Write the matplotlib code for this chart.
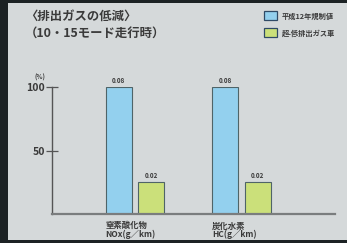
import matplotlib
matplotlib.use("Agg")
from matplotlib import pyplot as plt
from matplotlib.patches import Rectangle

plt.rcParams['font.family'] = ['Noto Sans CJK JP', 'DejaVu Sans']

# data
categories = ["窒素酸化物", "炭化水素"]
units = ["NOx(g／km)", "HC(g／km)"]
series_names = ["平成12年規制値", "超-低排出ガス車"]
limit_values = [0.08, 0.08]
ulev_values = [0.02, 0.02]
yticks = [50, 100]

# percentages relative to the regulation value
limit_pct = [v / v * 100 for v in limit_values]
ulev_pct = [u / v * 100 for u, v in zip(ulev_values, limit_values)]

W, H = 347, 243
fig = plt.figure(figsize=(W / 100, H / 100), dpi=100)
fig.patch.set_facecolor("#1c2224")

bg = "#d5d9da"
fig.patches.append(Rectangle((8 / W, 3 / H), 1, (H - 6) / H, transform=fig.transFigure,
                             facecolor=bg, edgecolor="none", zorder=-5))

blue = "#93d0ee"
green = "#cbe07a"
edge = "#4f6468"
txt = "#3a3a3a"

ax = fig.add_axes([52 / W, (H - 214) / H, (335 - 52) / W, (214 - 87) / H])
ax.set_facecolor("none")

x = range(len(categories))
off = 0.153
bw = 0.245
b1 = ax.bar([i - off for i in x], limit_pct, width=bw, color=blue, edgecolor=edge, linewidth=0.8)
b2 = ax.bar([i + off for i in x], ulev_pct, width=bw, color=green, edgecolor=edge, linewidth=0.8)
ax.bar_label(b1, labels=[f"{v:.2f}" for v in limit_values], padding=2, fontsize=4.5,
             fontweight="bold", color=txt)
ax.bar_label(b2, labels=[f"{v:.2f}" for v in ulev_values], padding=2, fontsize=4.5,
             fontweight="bold", color=txt)

ax.set_xlim(-0.78, 1.878)
ax.set_ylim(0, 100)
ax.set_xticks([])
ax.set_yticks(yticks)
ax.set_yticklabels([str(t) for t in yticks], fontsize=7.6, fontweight="bold", color=txt)
ax.tick_params(axis="y", direction="inout", length=8, width=0.9, color="#555555", pad=1)
for s in ["top", "right"]:
    ax.spines[s].set_visible(False)
ax.spines["left"].set_color("#555555")
ax.spines["left"].set_linewidth(1.0)
ax.spines["bottom"].set_color("#7a7d7e")
ax.spines["bottom"].set_linewidth(1.6)

ax.annotate("(%)", xy=(0, 1), xycoords="axes fraction", xytext=(-9, 7), textcoords="offset points",
            fontsize=4.5, fontweight="bold", color=txt, ha="center", va="center")

for i, (c, u) in enumerate(zip(categories, units)):
    xl = i - off - bw / 2
    ax.annotate(c, xy=(xl, 0), xycoords=("data", "axes fraction"), xytext=(0, -8.5),
                textcoords="offset points", fontsize=6, fontweight="bold", color=txt,
                ha="left", va="center", annotation_clip=False)
    ax.annotate(u, xy=(xl, 0), xycoords=("data", "axes fraction"), xytext=(0, -15),
                textcoords="offset points", fontsize=6, fontweight="bold", color=txt,
                ha="left", va="center", annotation_clip=False)

# title
fig.text(25 / W, 1 - 16 / H, "〈排出ガスの低減〉", fontsize=8.9, fontweight="bold", color=txt,
         ha="left", va="center")
fig.text(25 / W, 1 - 33 / H, "（10・15モード走行時）", fontsize=8.9, fontweight="bold", color=txt,
         ha="left", va="center")

# legend
for j, (name, col) in enumerate(zip(series_names, [blue, green])):
    yc = 16 + j * 17
    fig.patches.append(Rectangle((264 / W, 1 - (yc + 4.5) / H), 13 / W, 9 / H,
                                 transform=fig.transFigure, facecolor=col, edgecolor="#2f4a66",
                                 linewidth=0.9, zorder=2))
    fig.text(282 / W, 1 - yc / H, name, fontsize=5.2, fontweight="bold", color=txt,
             ha="left", va="center")

fig.savefig("out.png", dpi=100, facecolor=fig.get_facecolor())
